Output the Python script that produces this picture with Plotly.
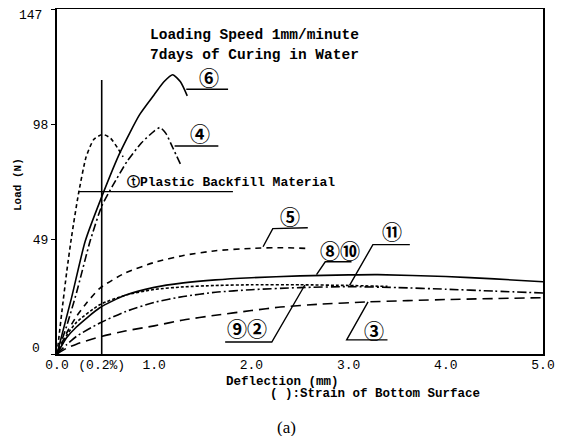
import plotly.graph_objects as go

# ---- data (deflection mm, load N) ----
c6_x = [0, 0.15, 0.29, 0.47, 0.65, 0.85, 1.0, 1.1, 1.19, 1.27, 1.34]
c6_y = [0, 24, 48, 68, 86, 102, 110.5, 116, 119, 116, 110]

c4_x = [0, 0.1, 0.2, 0.34, 0.46, 0.57, 0.72, 0.87, 1.0, 1.06, 1.12, 1.19, 1.28]
c4_y = [0, 12, 26, 48, 63, 71.5, 82, 90, 95, 96.5, 94, 88, 80]

ct_x = [0, 0.05, 0.1, 0.15, 0.22, 0.3, 0.38, 0.47, 0.55, 0.62, 0.68]
ct_y = [0, 18, 35, 50, 68, 84, 91.5, 93.6, 92, 88, 84]

c5_x = [0, 0.1, 0.2, 0.3, 0.44, 0.7, 1.0, 1.3, 1.63, 2.0, 2.3, 2.57]
c5_y = [0, 9, 16, 21.5, 28, 34.5, 39, 42, 44, 45, 45.3, 45]

c810_x = [0, 0.1, 0.2, 0.44, 0.7, 1.0, 1.3, 1.63, 2.0, 2.5, 3.0, 3.3, 4.0, 4.5, 5.0]
c810_y = [0, 7, 11.5, 19.7, 25, 28.4, 30.3, 31.6, 32.5, 33.3, 33.7, 33.8, 33, 32, 30.8]

c92_x = [0, 0.1, 0.2, 0.44, 0.7, 1.0, 1.3, 1.63, 2.0, 2.5, 3.0, 3.4]
c92_y = [0, 8, 13.5, 21, 25, 27.5, 28.6, 29.2, 29.5, 29.5, 29.2, 28.8]

c11_x = [0, 0.1, 0.2, 0.44, 0.7, 1.0, 1.3, 1.63, 2.0, 2.5, 3.0, 3.5, 4.0, 4.5, 5.0]
c11_y = [0, 4, 7.5, 13.2, 18, 22, 24.5, 26.3, 27.4, 28.3, 28.7, 28.3, 27.6, 26.8, 26]

c3_x = [0, 0.1, 0.2, 0.44, 0.7, 1.0, 1.3, 1.63, 2.0, 2.3, 2.7, 3.2, 4.0, 5.0]
c3_y = [0, 2.5, 4.2, 7.3, 9.8, 12, 14.5, 16.5, 18.5, 20, 21.2, 22.2, 23.2, 24]

x_tickvals = [0, 0.46, 1, 2, 3, 4, 5]
x_ticktext = ["0.0", "(0.2%)", "1.0", "2.0", "3.0", "4.0", "5.0"]
y_tickvals = [0, 49, 98, 147]
y_ticktext = ["", "49", "98", ""]
y_top_label = "147"
y_zero_label = "0"

strain_x = 0.46      # deflection at 0.2 % strain
strain_top = 116.7

MONO = "Liberation Mono"
CIRC = "Noto Sans CJK JP"

fig = go.Figure()
series = [
    (c6_x, c6_y, "solid"),
    (c4_x, c4_y, "8px,3px,2px,3px"),
    (ct_x, ct_y, "4px,3px"),
    (c5_x, c5_y, "6px,5px"),
    (c810_x, c810_y, "solid"),
    (c92_x, c92_y, "3px,2px"),
    (c11_x, c11_y, "9px,3px,2px,3px"),
    (c3_x, c3_y, "10px,6px"),
]
for xs, ys, d in series:
    fig.add_trace(go.Scatter(x=xs, y=ys, mode="lines", showlegend=False,
                             line=dict(color="black", width=1.6, dash=d,
                                       shape="spline", smoothing=0.6),
                             hoverinfo="skip"))

# vertical 0.2% strain line
fig.add_shape(type="line", x0=strain_x, x1=strain_x, y0=0, y1=strain_top,
              line=dict(color="black", width=1.6))

# leader lines: (points), label, label pos
leaders = [
    ([(1.33, 112.8), (1.76, 112.8)], "⑥", (1.56, 118)),
    ([(1.21, 88.6), (1.66, 88.6)], "④", (1.47, 94)),
    ([(2.12, 45.7), (2.22, 53.4), (2.58, 53.8)], "⑤", (2.40, 58.5)),
    ([(2.67, 33.8), (2.76, 39.3), (3.03, 39.3)], "⑧⑩", (2.91, 44.2)),
    ([(3.01, 29.2), (3.25, 46.6), (3.63, 46.6)], "⑪", (3.45, 52)),
    ([(2.55, 29.4), (2.21, 5.1), (1.73, 5.1)], "⑨②", (1.95, 10.7)),
    ([(3.20, 22.2), (2.98, 6.0), (3.40, 6.0)], "③", (3.26, 10.2)),
]
for pts, lab, (lx, ly) in leaders:
    path = "M " + " L ".join(f"{px},{py}" for px, py in pts)
    fig.add_shape(type="path", path=path, line=dict(color="black", width=1.4))
    fig.add_annotation(x=lx, y=ly, text="<b>" + lab + "</b>", showarrow=False,
                       font=dict(family=CIRC, size=20, color="black"))

# plastic backfill leader
fig.add_shape(type="line", x0=0.22, x1=1.81, y0=69.2, y1=69.2,
              line=dict(color="black", width=1.4))
fig.add_annotation(x=0.7, y=73.5, xanchor="left", text="<b>ⓣPlastic Backfill Material</b>",
                   showarrow=False, font=dict(family=MONO + ", DejaVu Sans", size=13, color="black"))

fig.add_annotation(x=0.94, y=136, xanchor="left", text="<b>Loading Speed 1mm/minute</b>",
                   showarrow=False, font=dict(family=MONO, size=14.5, color="black"))
fig.add_annotation(x=0.94, y=127.5, xanchor="left", text="<b>7days of Curing in Water</b>",
                   showarrow=False, font=dict(family=MONO, size=14.5, color="black"))

# top / bottom y labels placed inside the figure edges
fig.add_annotation(xref="paper", yref="y", x=-0.026, y=147, xanchor="right", yanchor="top",
                   yshift=3, text=y_top_label, showarrow=False,
                   font=dict(family=MONO, size=13, color="black"))
fig.add_annotation(xref="paper", yref="y", x=-0.03, y=0, xanchor="right", yanchor="middle",
                   yshift=6, text=y_zero_label, showarrow=False,
                   font=dict(family=MONO, size=13, color="black"))

# titles below axis
fig.add_annotation(xref="paper", yref="paper", x=0.465, y=-0.08, xanchor="center",
                   yanchor="middle", text="<b>Deflection (mm)</b>",
                   showarrow=False, font=dict(family=MONO, size=12.5, color="black"))
fig.add_annotation(xref="paper", yref="paper", x=0.654, y=-0.115, xanchor="center",
                   yanchor="middle", text="<b>( ):Strain of Bottom Surface</b>",
                   showarrow=False, font=dict(family=MONO, size=12.5, color="black"))
fig.add_annotation(xref="paper", yref="paper", x=0.473, y=-0.212, xanchor="center",
                   yanchor="middle", text="(a)",
                   showarrow=False, font=dict(family="Liberation Serif", size=17, color="black"))
fig.add_annotation(xref="paper", yref="paper", x=-0.08, y=0.49, xanchor="center",
                   yanchor="middle", text="<b>Load (N)</b>",
                   textangle=-90, showarrow=False,
                   font=dict(family=MONO, size=11, color="black"))

fig.update_xaxes(range=[0, 5], tickvals=x_tickvals, ticktext=x_ticktext,
                 showline=True, linecolor="black", linewidth=2, mirror=True,
                 showgrid=False, zeroline=False, ticks="", automargin=False,
                 ticklabelstandoff=-3,
                 tickfont=dict(family=MONO, size=13, color="black"))
fig.update_yaxes(range=[0, 147], tickvals=y_tickvals, ticktext=y_ticktext,
                 showline=True, linecolor="black", linewidth=2, mirror=True,
                 showgrid=False, zeroline=False, ticks="outside", ticklen=4,
                 automargin=False,
                 tickcolor="black", tickfont=dict(family=MONO, size=13, color="black"))

# page body adds an 8px offset, so the figure is drawn 8px smaller
fig.update_layout(width=556, height=428, margin=dict(l=49, r=21, t=1, b=82),
                  paper_bgcolor="white", plot_bgcolor="white",
                  font=dict(family=MONO, color="black"))
fig.write_html("out.html")
